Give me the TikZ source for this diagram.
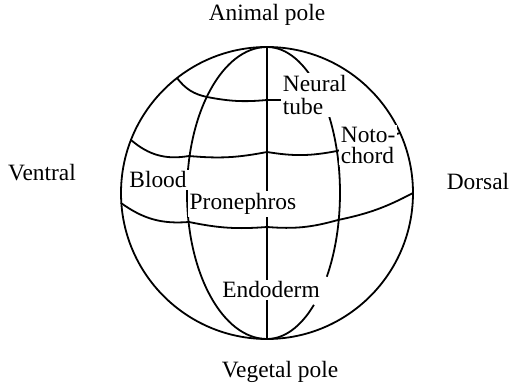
\documentclass[tikz,border=0pt]{standalone}
\usepackage{fontspec}
\setmainfont{Liberation Serif}
\usetikzlibrary{math}

\begin{document}
\begin{tikzpicture}[x=0.5pt,y=0.5pt,line width=0.9pt,
    lbl/.style={font=\fontsize{11.7}{11.5}\selectfont},
    part/.style={lbl,fill=white,inner sep=1pt,align=left}]
      \tikzmath{\cx = 267; \cy = 198; \rad = 73;}
      \useasboundingbox (0,0) rectangle (511,391);
      \coordinate (O) at (\cx,\cy);
      \coordinate (N) at (\cx,\cy+146);
      \coordinate (S) at (\cx,\cy-146);
      \draw (O) circle (\rad pt);
      \draw (N) -- (S);
      \draw (N) arc[start angle=90,end angle=270,x radius=40pt,y radius=\rad pt];
      \draw (N) arc[start angle=90,end angle=-35,x radius=36.5pt,y radius=\rad pt];
      \draw (S) arc[start angle=-90,end angle=-50,x radius=36.5pt,y radius=\rad pt];
      \draw (177,313) to[bend right=20] (207,294) to[bend right=8] (267,291) -- (300,291);
      \draw (131,251) to[bend right=25] (189,235) to[bend right=8] (267,239) to[bend right=10] (337,240) -- (400,258);
      \draw (121,188) to[bend right=20] (189,169) to[bend right=8] (267,164) to[bend right=10] (338,171) to[bend right=8] (413,198);
      \node[lbl] (animal) at (267,376) {Animal pole};
      \node[lbl] (vegetal) at (280,19) {Vegetal pole};
      \node[lbl] (ventral) at (42,218) {Ventral};
      \node[lbl] (dorsal) at (478,209) {Dorsal};
      \node[part,anchor=west] (neural) at (280,296) {Neural\\tube};
      \node[part,anchor=west,font=\fontsize{11.7}{10.5}\selectfont] (noto) at (338,246) {Noto-\\chord};
      \node[part] (blood) at (158,211) {Blood};
      \node[part] (pronephros) at (243,187) {Pronephros};
      \node[part] (endoderm) at (271,101) {Endoderm};
    \end{tikzpicture}
\end{document}
